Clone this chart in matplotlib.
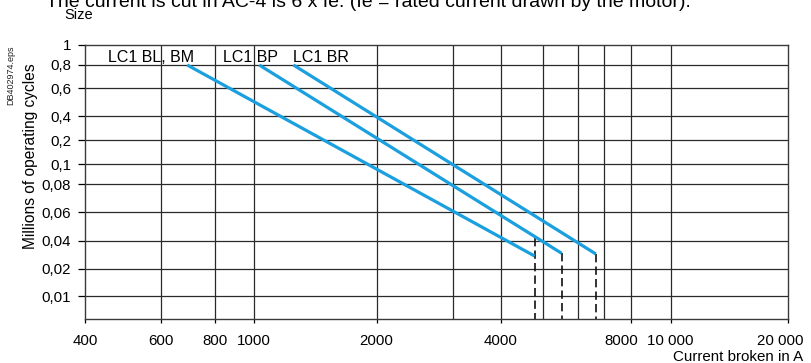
import numpy as np
import matplotlib
matplotlib.use('Agg')
import matplotlib.pyplot as plt
import matplotlib.transforms as mtransforms

plt.rcParams['font.family'] = ['Liberation Sans', 'DejaVu Sans']

# ---------------- data ----------------
x_ticks = [400, 600, 800, 1000, 2000, 4000, 8000, 10000, 20000]
x_tick_labels = ['400', '600', '800', '1000', '2000', '4000', '8000', '10 000', '20 000']
x_extra_grid = [3000, 5000, 6000, 7000]
y_ticks = [1, 0.8, 0.6, 0.4, 0.2, 0.1, 0.08, 0.06, 0.04, 0.02, 0.01]
y_tick_labels = ['1', '0,8', '0,6', '0,4', '0,2', '0,1', '0,08', '0,06', '0,04', '0,02', '0,01']

series_names = ['LC1 BL, BM', 'LC1 BP', 'LC1 BR']
current_start = [690, 1030, 1250]
current_end = [4780, 5510, 6670]
cycles_start = [0.8, 0.8, 0.8]
cycles_end = [0.0276, 0.0295, 0.029]
cutoff_top = [0.042, 0.0295, 0.029]

# ---------------- scale calibration (graduation spacing of the printed chart) ----------------
x_cal_vals = [400, 600, 800, 1000, 2000, 3000, 4000, 5000, 6000, 7000, 8000, 10000, 20000]
x_cal_pos = [0, 76, 130, 169, 291.5, 368, 416, 458, 493, 519, 546, 585.5, 703]
y_cal_vals = [0.005, 0.01, 0.02, 0.04, 0.06, 0.08, 0.1, 0.2, 0.4, 0.6, 0.8, 1]
y_cal_pos = [0, 23, 50, 78, 107, 135, 155, 179, 203, 231, 254, 274]


def make_scale(vals, pos):
    lv = np.log10(vals)
    pos = np.asarray(pos, float)

    def fwd(v):
        v = np.asarray(v, float)
        lg = np.log10(np.clip(v, 1e-12, None))
        return np.interp(lg, lv, pos)

    def inv(p):
        p = np.asarray(p, float)
        return 10 ** np.interp(p, pos, lv)

    return fwd, inv


blue = '#1a9fdf'

fig = plt.figure(figsize=(8.11, 3.63), dpi=100)
ax = fig.add_axes([85 / 811, 44 / 363, 703 / 811, 274 / 363])

ax.set_xscale('function', functions=make_scale(x_cal_vals, x_cal_pos))
ax.set_yscale('function', functions=make_scale(y_cal_vals, y_cal_pos))
ax.set_xlim(400, 20000)
ax.set_ylim(y_cal_vals[0], 1)

# grid
for xv in x_ticks[1:-1] + x_extra_grid:
    ax.axvline(xv, color='#2a2a2a', lw=0.9, zorder=1)
for yv in y_ticks[1:]:
    ax.axhline(yv, color='#2a2a2a', lw=0.9, zorder=1)

# curves
for i in range(len(series_names)):
    ax.plot([current_start[i], current_end[i]], [cycles_start[i], cycles_end[i]],
            color=blue, lw=2.3, solid_capstyle='butt', zorder=3)
    ax.plot([current_end[i], current_end[i]], [cutoff_top[i], y_cal_vals[0]],
            color='#111111', lw=1.2, dashes=(5, 2.5), zorder=2)

# curve names
label_x = [(108 - 85) / 703, (223 - 85) / 703, (293 - 85) / 703]
for name, lx in zip(series_names, label_x):
    ax.text(lx, 0.956, name, transform=ax.transAxes, fontsize=11.5, va='center', ha='left')

ax.set_xticks(x_ticks)
ax.set_xticklabels(x_tick_labels)
ax.set_xticks([], minor=True)
ax.set_yticks(y_ticks)
ax.set_yticklabels(y_tick_labels)
ax.set_yticks([], minor=True)
ax.tick_params(axis='x', direction='out', length=3, width=0.9, pad=7.5, labelsize=10.8)
ax.tick_params(axis='y', direction='out', length=5, width=0.9, pad=5, labelsize=10.8)

# printed chart shifts a few x labels slightly left
shifts = {'8000': -10, '20 000': -8}
for lab in ax.get_xticklabels():
    if lab.get_text() in shifts:
        lab.set_transform(lab.get_transform() +
                          mtransforms.ScaledTranslation(shifts[lab.get_text()] / 100, 0,
                                                        fig.dpi_scale_trans))

for s in ax.spines.values():
    s.set_color('#3a3a3a')
    s.set_linewidth(1.0)

fig.text(30 / 811, 1 - 156 / 363, 'Millions of operating cycles', rotation=90,
         ha='center', va='center', fontsize=11.2)
fig.text(803 / 811, 1 - 357 / 363, 'Current broken in A', ha='right', va='center', fontsize=10.9)
fig.text(64 / 811, 1 - 15 / 363, 'Size', ha='left', va='center', fontsize=10.5)
fig.text(11 / 811, 1 - 75 / 363, 'DB402974.eps', rotation=90, ha='center', va='center',
         fontsize=6.5, color='#222222')
fig.text(46 / 811, 1 - 7 / 363,
         'The current is cut in AC-4 is 6 x Ie. (Ie = rated current drawn by the motor).',
         ha='left', va='baseline', fontsize=14)

fig.savefig('out.png', dpi=100)
